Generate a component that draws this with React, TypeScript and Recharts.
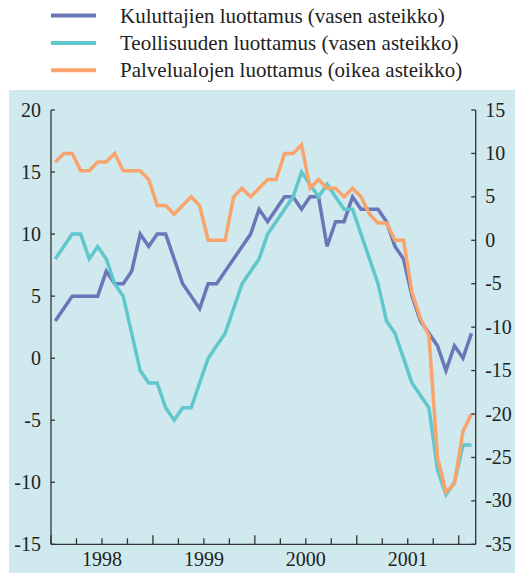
import React from 'react';
import { LineChart, Line, XAxis, YAxis, Legend } from 'recharts';

// Monthly values, Jan 1998 – Feb 2002
const kuluttajat = [3, 4, 5, 5, 5, 5, 7, 6, 6, 7, 10, 9, 10, 10, 8, 6, 5, 4, 6, 6, 7, 8, 9, 10, 12, 11, 12, 13, 13, 12, 13, 13, 9, 11, 11, 13, 12, 12, 12, 11, 9, 8, 5, 3, 2, 1, -1, 1, 0, 2];
const teollisuus = [8, 9, 10, 10, 8, 9, 8, 6, 5, 2, -1, -2, -2, -4, -5, -4, -4, -2, 0, 1, 2, 4, 6, 7, 8, 10, 11, 12, 13, 15, 14, 13, 14, 13, 12, 12, 10, 8, 6, 3, 2, 0, -2, -3, -4, -9, -11, -10, -7, -7];
const palvelut = [9, 10, 10, 8, 8, 9, 9, 10, 8, 8, 8, 7, 4, 4, 3, 4, 5, 4, 0, 0, 0, 5, 6, 5, 6, 7, 7, 10, 10, 11, 6, 7, 6, 6, 5, 6, 5, 3, 2, 2, 0, 0, -6, -9, -11, -25, -29, -28, -22, -20];

const seriesNames = [
  'Kuluttajien luottamus (vasen asteikko)',
  'Teollisuuden luottamus (vasen asteikko)',
  'Palvelualojen luottamus (oikea asteikko)',
];
const yearLabels = ['1998', '1999', '2000', '2001'];
const monthTicks = [0, 3, 6, 9, 12, 15, 18, 21, 24, 27, 30, 33, 36, 39, 42, 45, 48];
const leftTicks = [20, 15, 10, 5, 0, -5, -10, -15];
const rightTicks = [15, 10, 5, 0, -5, -10, -15, -20, -25, -30, -35];

const data = kuluttajat.map((v, i) => ({
  x: i + 0.5,
  k: v,
  t: teollisuus[i],
  p: palvelut[i],
}));

const BLUE = '#6b76b8';
const CYAN = '#60c7cc';
const ORANGE = '#f8a46c';
const seriesColors = [BLUE, CYAN, ORANGE];
const BG = '#cfe9ee';
const AXIS = '#333333';
const TEXT = '#222222';
const FONT = '"Liberation Serif", "Times New Roman", Times, serif';

const XTick = (props: any) => {
  const { x, y, payload } = props;
  const v = payload.value as number;
  const len = v % 12 === 0 ? 9 : 6;
  const showLabel = v % 12 === 6;
  return (
    <g>
      <line x1={x} x2={x} y1={y} y2={y - len} stroke={AXIS} strokeWidth={1.3} />
      {showLabel && (
        <text x={x} y={y + 21.5} textAnchor="middle" fontSize={20} fontFamily={FONT} fill={TEXT}>
          {yearLabels[(v - 6) / 12]}
        </text>
      )}
    </g>
  );
};

const LeftTick = (props: any) => {
  const { x, y, payload } = props;
  return (
    <g>
      <line x1={x} x2={x + 4} y1={y} y2={y} stroke={AXIS} strokeWidth={1.3} />
      <text x={x - 10} y={y + 6.5} textAnchor="end" fontSize={20} fontFamily={FONT} fill={TEXT}>
        {String(payload.value)}
      </text>
    </g>
  );
};

const RightTick = (props: any) => {
  const { x, y, payload } = props;
  return (
    <g>
      <line x1={x} x2={x - 4.5} y1={y} y2={y} stroke={AXIS} strokeWidth={1.3} />
      <text x={x + 9.5} y={y + 6.5} textAnchor="start" fontSize={20} fontFamily={FONT} fill={TEXT}>
        {String(payload.value)}
      </text>
    </g>
  );
};

const renderLegend = () => (
  <svg width={515} height={90} style={{ display: 'block' }}>
    {seriesNames.map((name, i) => (
      <g key={name}>
        <line x1={51} x2={96} y1={15.5 + i * 27.4} y2={15.5 + i * 27.4} stroke={seriesColors[i]} strokeWidth={4} />
        <text x={120} y={22.5 + i * 27.4} fontSize={21} fontFamily={FONT} fill={TEXT}>
          {name}
        </text>
      </g>
    ))}
  </svg>
);

export default function App() {
  return (
    <div style={{ position: 'absolute', left: 0, top: 0, width: 515, height: 573, overflow: 'hidden', background: '#ffffff' }}>
      <div style={{ position: 'absolute', left: 9, top: 90, width: 506, height: 483, background: BG }} />
      <div style={{ position: 'absolute', left: 0, top: 0 }}>
        <LineChart width={515} height={573} data={data} margin={{ top: 110, right: 0, bottom: 0, left: 0 }}>
          <XAxis
            dataKey="x"
            type="number"
            domain={[0, 50]}
            ticks={monthTicks}
            interval={0}
            tickSize={0}
            tickMargin={0}
            tickLine={false}
            height={28.7}
            axisLine={{ stroke: AXIS, strokeWidth: 1.3 }}
            tick={<XTick />}
          />
          <YAxis
            yAxisId="left"
            orientation="left"
            domain={[-15, 20]}
            ticks={leftTicks}
            interval={0}
            width={51}
            tickSize={0}
            tickMargin={0}
            tickLine={false}
            axisLine={{ stroke: AXIS, strokeWidth: 1.3 }}
            tick={<LeftTick />}
          />
          <YAxis
            yAxisId="right"
            orientation="right"
            domain={[-35, 15]}
            ticks={rightTicks}
            interval={0}
            width={39.3}
            tickSize={0}
            tickMargin={0}
            tickLine={false}
            axisLine={{ stroke: AXIS, strokeWidth: 1.3 }}
            tick={<RightTick />}
          />
          <Legend
            layout="horizontal"
            verticalAlign="middle"
            align="center"
            content={renderLegend}
            wrapperStyle={{ position: 'absolute', top: 0, left: 0, width: 515, height: 90 }}
          />
          <Line yAxisId="left" name={seriesNames[0]} dataKey="k" type="linear" stroke={BLUE} strokeWidth={3.5} dot={false} activeDot={false} isAnimationActive={false} />
          <Line yAxisId="left" name={seriesNames[1]} dataKey="t" type="linear" stroke={CYAN} strokeWidth={3.5} dot={false} activeDot={false} isAnimationActive={false} />
          <Line yAxisId="right" name={seriesNames[2]} dataKey="p" type="linear" stroke={ORANGE} strokeWidth={3.5} dot={false} activeDot={false} isAnimationActive={false} />
        </LineChart>
      </div>
    </div>
  );
}
